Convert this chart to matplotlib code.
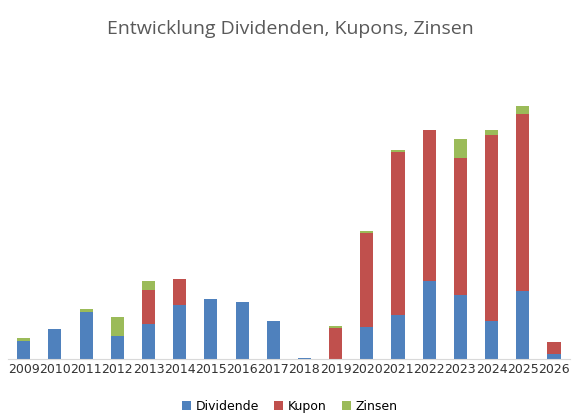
import matplotlib
matplotlib.use("Agg")
import matplotlib.pyplot as plt
import numpy as np

years = [str(y) for y in range(2009, 2027)]
dividende = [18, 30, 47, 23, 35, 54, 60, 57, 38, 1, 0, 32, 44, 78, 64, 38, 68, 5]
kupon =     [0, 0, 0, 0, 34, 26, 0, 0, 0, 0, 31, 94, 163, 151, 137, 186, 177, 12]
zinsen =    [3, 0, 3, 19, 9, 0, 0, 0, 0, 0, 2, 2, 2, 0, 19, 5, 8, 0]

fig = plt.figure(figsize=(5.8, 4.19), dpi=100)
ax = fig.add_axes([0.014, 0.143, 0.968, 0.618])
x = np.arange(len(years))
d = np.array(dividende); k = np.array(kupon); z = np.array(zinsen)
w = 0.42
ax.bar(x, d, w, color="#4F81BD", label="Dividende")
ax.bar(x, k, w, bottom=d, color="#C0504D", label="Kupon")
ax.bar(x, z, w, bottom=d + k, color="#9BBB59", label="Zinsen")
ax.set_xlim(-0.5, len(years) - 0.5)
ax.set_ylim(0, 259)
ax.set_xticks(x)
ax.set_xticklabels(years, fontsize=9, color="#333333")
ax.tick_params(axis="x", length=0, pad=3)
ax.set_yticks([])
for s in ["top", "right", "left"]:
    ax.spines[s].set_visible(False)
ax.spines["bottom"].set_color("#D9D9D9")
fig.text(0.5, 0.93, "Entwicklung Dividenden, Kupons, Zinsen", ha="center", va="center",
         fontsize=14, color="#595959", family="Open Sans")
fig.legend(loc="center", bbox_to_anchor=(0.5, 0.03), ncol=3, frameon=False,
           fontsize=9, handlelength=0.7, handleheight=0.7, columnspacing=1.2, handletextpad=0.4)
fig.savefig("out.png", dpi=100, facecolor="white")
